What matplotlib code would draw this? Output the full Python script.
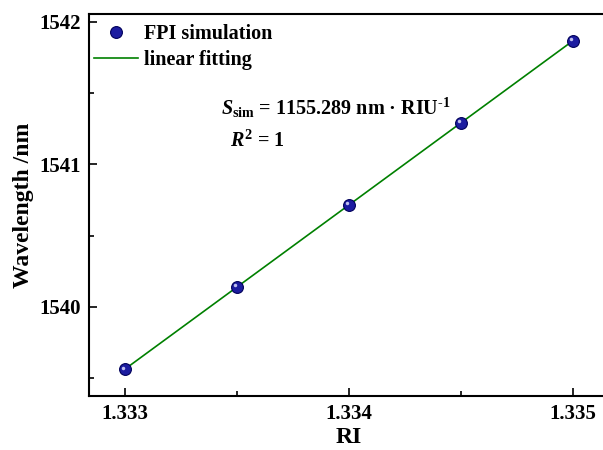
import numpy as np
import matplotlib
matplotlib.use("Agg")
import matplotlib.pyplot as plt
from matplotlib.transforms import offset_copy

plt.rcParams['font.family'] = ['Liberation Serif', 'DejaVu Serif']
plt.rcParams['font.weight'] = 'bold'
plt.rcParams['mathtext.fontset'] = 'custom'
plt.rcParams['mathtext.rm'] = 'Liberation Serif:bold'
plt.rcParams['mathtext.bf'] = 'Liberation Serif:bold'
plt.rcParams['mathtext.it'] = 'Liberation Serif:bold:italic'

ri = [1.333, 1.3335, 1.334, 1.3345, 1.335]
wavelength = [1539.563, 1540.140, 1540.716, 1541.293, 1541.869]
slope = 1155.289

# linear fit line
x_fit = np.array([ri[0], ri[-1]])
coef = np.polyfit(ri, wavelength, 1)
y_fit = np.polyval(coef, x_fit)

fig = plt.figure(figsize=(6.03, 4.5), dpi=100)
ax = fig.add_axes([89 / 603, 54 / 450, 520 / 603, 382 / 450])

ax.plot(x_fit, y_fit, color='#008000', lw=1.2, label='linear fitting', zorder=2)
ax.plot(ri, wavelength, 'o', ms=8.5, color='#1c1ca0', mec='#00005a', mew=0.8,
        label='FPI simulation', zorder=3)
# small highlight on the spheres
hl = offset_copy(ax.transData, fig=fig, x=-1.2, y=1.2, units='points')
ax.plot(ri, wavelength, 'o', ms=2.5, color='#c0c0ee', mew=0, zorder=4,
        transform=hl)

ax.set_xlim(1.33284, 1.33516)
ax.set_ylim(1539.375, 1542.056)
ax.set_xticks([1.333, 1.334, 1.335])
ax.set_xticklabels(['1.333', '1.334', '1.335'])
ax.set_xticks([1.3335, 1.3345], minor=True)
ax.set_yticks([1540, 1541, 1542])
ax.set_yticks([1539.5, 1540.5, 1541.5], minor=True)
ax.tick_params(which='both', direction='in', labelsize=15, width=1.2)
ax.tick_params(which='major', length=6)
ax.tick_params(which='minor', length=3.5)
ax.tick_params(axis='x', pad=6)
ax.tick_params(axis='y', pad=6)
for s in ax.spines.values():
    s.set_linewidth(1.5)
ax.spines['right'].set_visible(False)

ax.set_xlabel('RI', fontsize=17, fontweight='bold', labelpad=2)
ax.set_ylabel('Wavelength /nm', fontsize=17, fontweight='bold', labelpad=4)

h, l = ax.get_legend_handles_labels()
ax.legend([h[1], h[0]], [l[1], l[0]], loc='upper left', frameon=False,
          fontsize=14.5, handlelength=2.2, handletextpad=0.3,
          borderaxespad=0.1, labelspacing=0.3,
          bbox_to_anchor=(-0.01, 1.0))

ax.text(0.254, 0.737, r'$S_{\rm sim}$ = %.3f nm · RIU$^{\text{-1}}$' % slope,
        transform=ax.transAxes, fontsize=14.5, fontweight='bold')
ax.text(0.272, 0.652, r'$R^{2}$ = 1', transform=ax.transAxes,
        fontsize=14.5, fontweight='bold')

fig.savefig('out.png', dpi=100)
